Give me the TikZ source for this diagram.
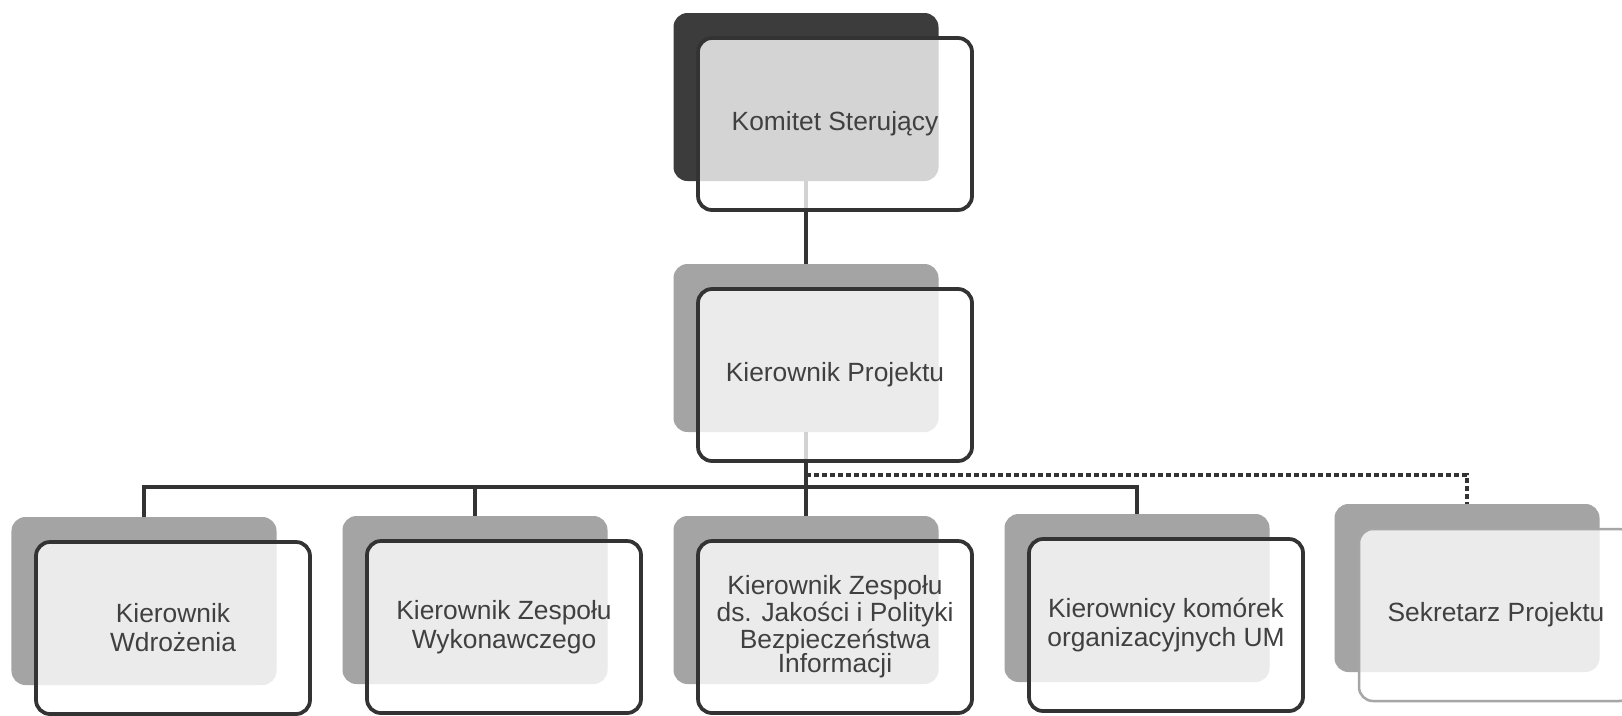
\documentclass[tikz,border=0pt]{standalone}
\usepackage{fontspec}
\setmainfont{Liberation Sans}
\usetikzlibrary{positioning}

\definecolor{linegray}{HTML}{333333}
\definecolor{textgray}{HTML}{404040}
\definecolor{darkshade}{HTML}{3C3C3C}
\definecolor{shade}{HTML}{A4A4A4}

\begin{document}
\begin{tikzpicture}[x=0.2mm,y=-0.2mm,
  back node/.style={rectangle,rounded corners=2.8mm,fill=shade,
    minimum width=53mm,minimum height=33.6mm},
  front node/.style={rectangle,rounded corners=2.8mm,draw=linegray,
    line width=0.75mm,fill=white,fill opacity=0.78,text opacity=1,
    text=textgray,align=center,minimum width=54.8mm,minimum height=34.4mm,
    font=\fontsize{15}{16.5}\selectfont,on grid,below right=5.4mm and 5.8mm of #1},
  link/.style={draw=linegray,line width=0.75mm},
  dotted link/.style={link,dash pattern=on 1mm off 0.6mm}]

  \useasboundingbox[fill=white] (0,0) rectangle (1622,715);

  \node[back node,fill=darkshade] (ksb) at (806,97) {};
  \node[back node] (kpb) at (806,348) {};
  \node[back node] (wdb) at (144,601) {};
  \node[back node] (zwb) at (475,600) {};
  \node[back node] (jpb) at (806,600) {};
  \node[back node] (kkb) at (1137,598) {};
  \node[back node] (spb) at (1467,588) {};

  \coordinate (bus) at (806,487);
  \coordinate (dots) at (806,475);

  \draw[link] (ksb.south) -- (kpb.north);
  \draw[link] (kpb.south) -- (jpb.north);
  \draw[link] (wdb.north) |- (bus) -| (kkb.north);
  \draw[link] (zwb.north) -- (zwb.north |- bus);
  \draw[dotted link] (dots) -| (spb.north);

  \node[front node=ksb] (ks) {Komitet Sterujący};
  \node[front node=kpb] (kp) {Kierownik Projektu};
  \node[front node=wdb] (wd) {Kierownik\\Wdrożenia};
  \node[front node=zwb] (zw) {Kierownik Zespołu\\Wykonawczego};
  \node[front node=jpb,font=\fontsize{15}{14}\selectfont] (jp) {Kierownik Zespołu\\ds. Jakości i Polityki\\Bezpieczeństwa\\Informacji};
  \node[front node=kkb] (kk) {Kierownicy komórek\\organizacyjnych UM};
  \node[front node=spb,draw=gray!70,line width=0.5mm] (sp) {Sekretarz Projektu};
\end{tikzpicture}
\end{document}
